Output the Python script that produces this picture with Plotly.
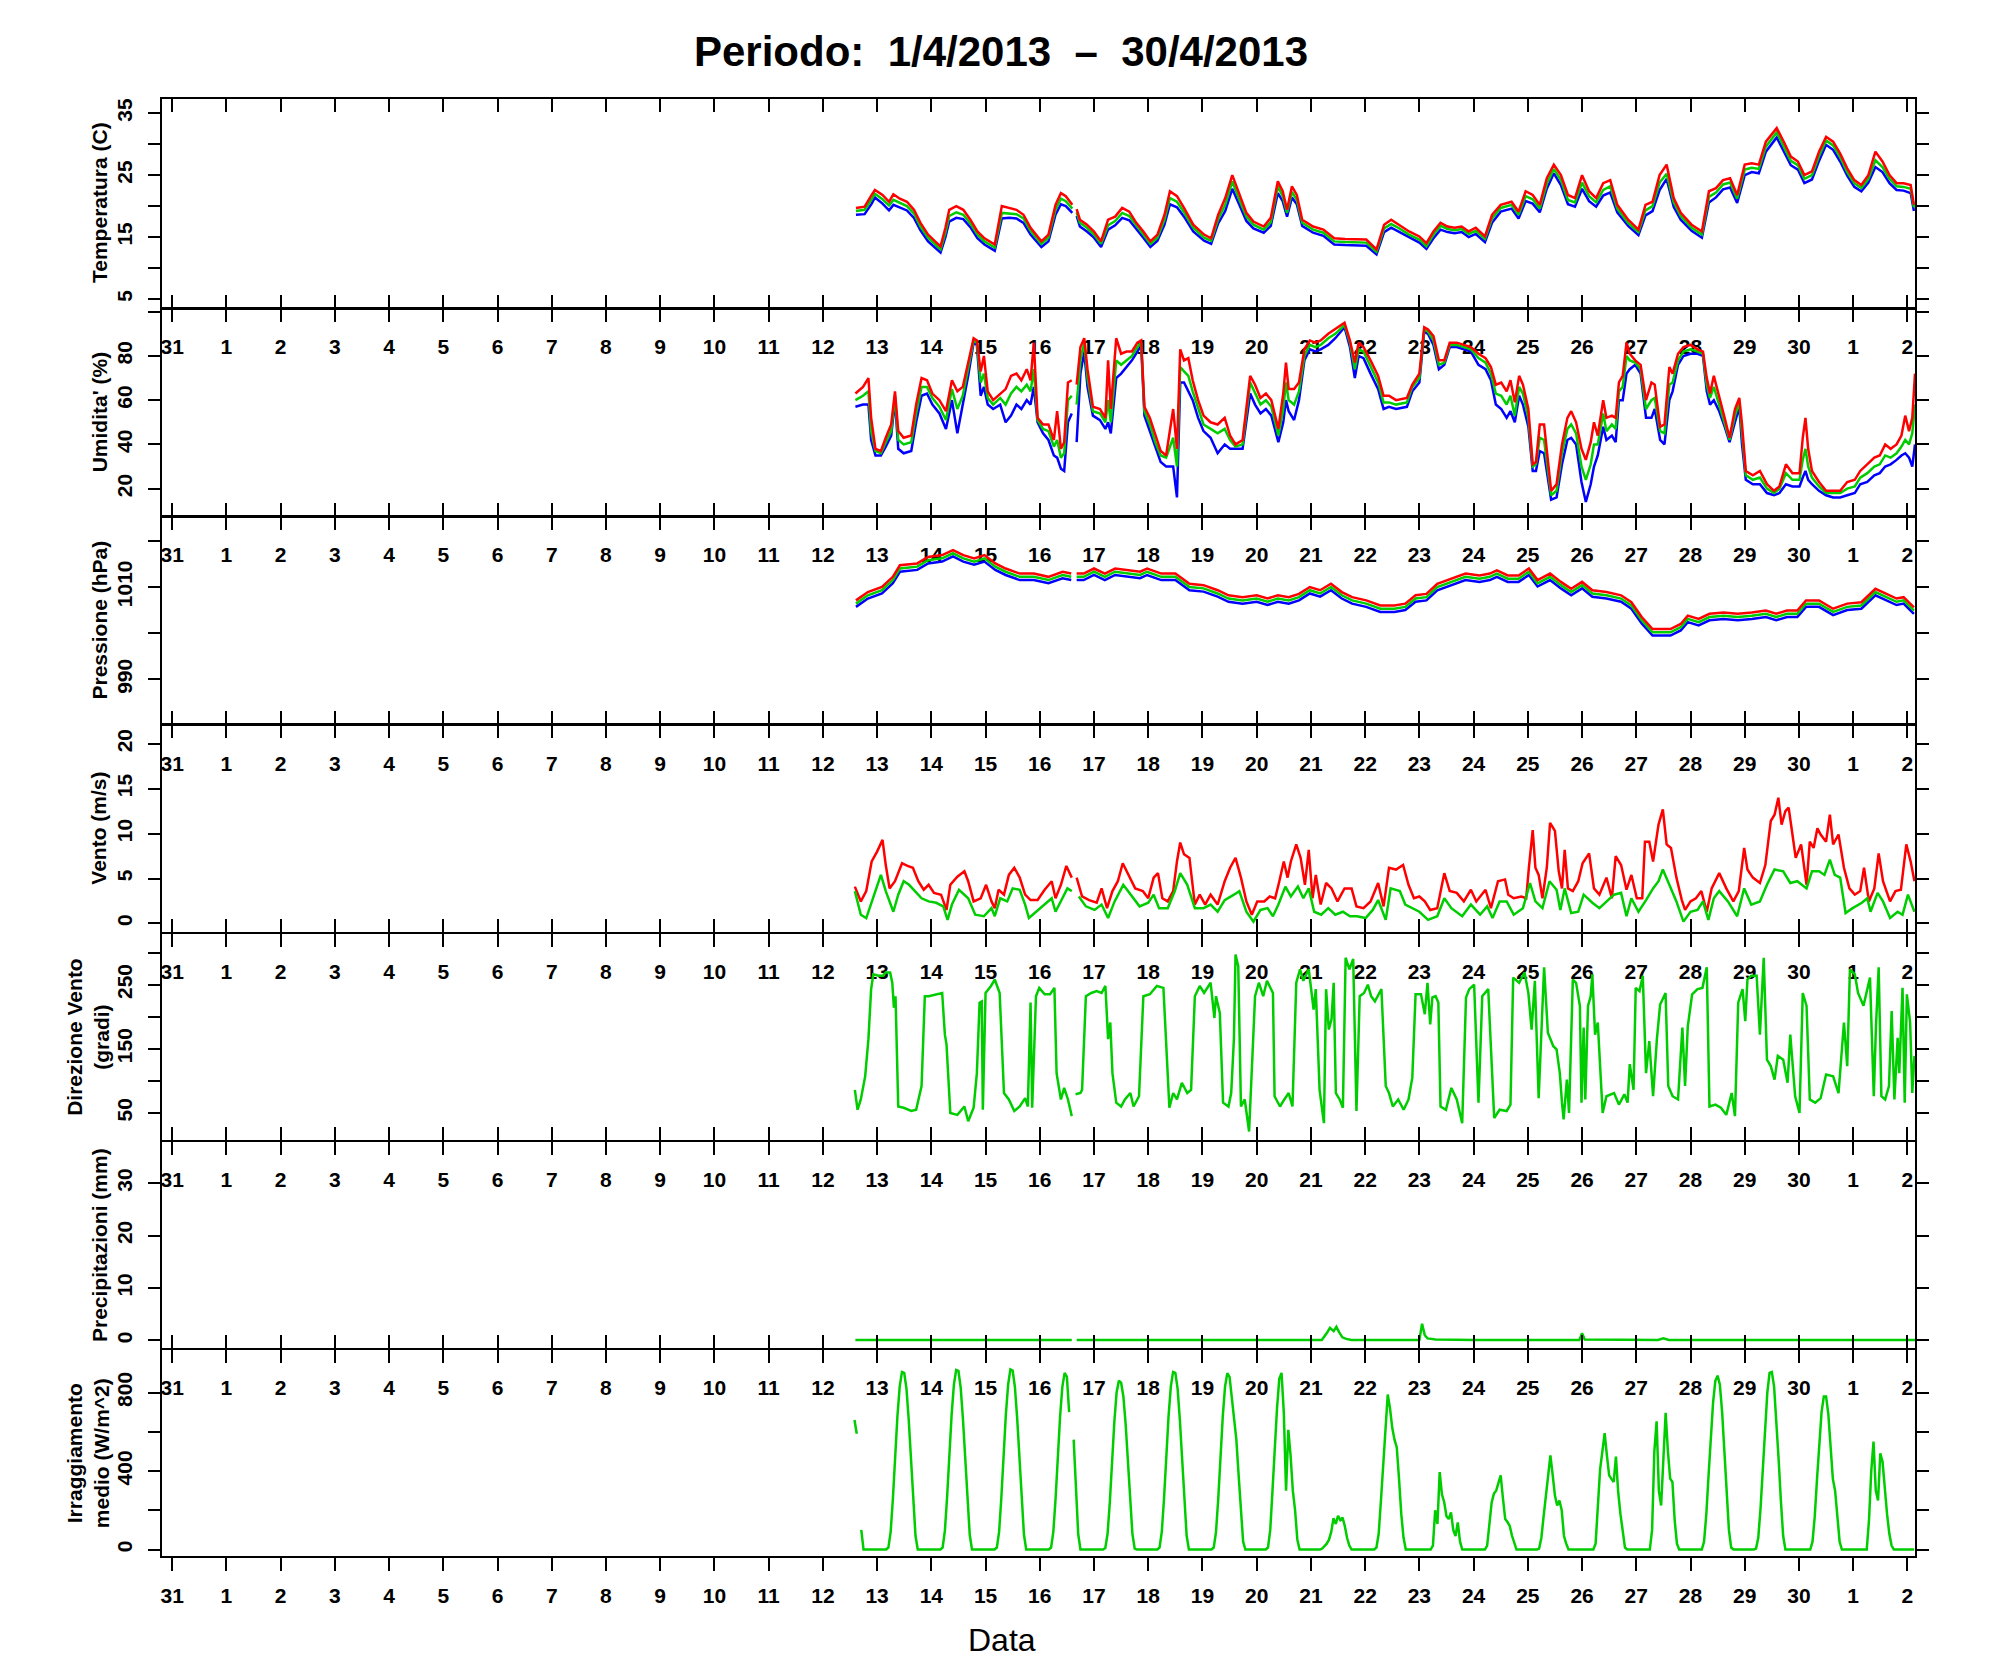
import pandas as pd
import plotly.graph_objects as go

# Data.
# Times are fractional days counted from 31 March 2013 00:00 (13.5 = 13 April, noon).
START = pd.Timestamp("2013-03-31")

# --- Temperatura (C): max / media / min ---
temp_day = [12.61, 12.77, 12.9, 12.96, 13.1, 13.22, 13.3, 13.42, 13.55, 13.68, 13.8, 13.94, 14.07, 14.17,
            14.26, 14.33, 14.46, 14.59, 14.72, 14.85, 14.98, 15.17, 15.3, 15.44, 15.57, 15.7, 15.83, 16.03,
            16.16, 16.29, 16.39, 16.48, 16.6, 16.64, 16.68, 16.74, 16.87, 17.0, 17.13, 17.26, 17.39, 17.52,
            17.65, 17.78, 17.91, 18.04, 18.17, 18.3, 18.4, 18.53, 18.66, 18.83, 19.03, 19.16, 19.29, 19.42,
            19.55, 19.68, 19.81, 19.94, 20.13, 20.26, 20.39, 20.48, 20.56, 20.65, 20.74, 20.84, 21.04, 21.23,
            21.43, 21.63, 21.82, 22.02, 22.21, 22.35, 22.48, 22.61, 22.81, 23.0, 23.13, 23.26, 23.39, 23.52,
            23.65, 23.78, 23.91, 24.04, 24.21, 24.34, 24.5, 24.7, 24.83, 24.96, 25.09, 25.22, 25.35, 25.48,
            25.61, 25.74, 25.87, 26.0, 26.13, 26.26, 26.39, 26.52, 26.65, 26.85, 27.04, 27.17, 27.3, 27.43,
            27.56, 27.69, 27.82, 28.02, 28.21, 28.34, 28.47, 28.6, 28.73, 28.86, 29.0, 29.13, 29.26, 29.39,
            29.59, 29.72, 29.85, 29.98, 30.1, 30.24, 30.37, 30.5, 30.63, 30.76, 30.89, 31.02, 31.15, 31.28,
            31.41, 31.54, 31.67, 31.8, 31.93, 32.06, 32.12]
temp_max = [19.7, 19.9, 21.8, 22.6, 21.8, 20.7, 21.9, 21.2, 20.7, 19.4, 17.3, 15.4, 14.3, 13.5,
            16.5, 19.4, 20.0, 19.4, 17.8, 15.9, 14.8, 13.8, 20.0, 19.7, 19.4, 18.6, 16.5, 14.3,
            15.4, 20.2, 22.1, 21.6, 20.2, None, 19.5, 17.8, 17.0, 15.9, 14.3, 17.8, 18.3, 19.7,
            19.1, 17.3, 15.9, 14.3, 15.4, 18.6, 22.4, 21.6, 19.7, 17.0, 15.4, 14.8, 18.6, 21.3,
            25.0, 21.8, 18.9, 17.5, 16.7, 18.1, 24.0, 22.4, 19.4, 23.2, 21.8, 17.8, 16.7, 16.2,
            14.8, 14.7, 14.6, 14.6, 13.0, 17.0, 17.8, 17.0, 15.9, 15.1, 14.0, 15.9, 17.3, 16.7,
            16.5, 16.7, 15.9, 16.5, 15.1, 18.6, 20.2, 20.7, 19.1, 22.4, 21.8, 20.2, 24.5, 26.7,
            25.0, 21.8, 21.3, 25.0, 22.4, 21.3, 23.7, 24.2, 20.2, 17.8, 16.2, 20.2, 20.7, 25.0,
            26.7, 21.3, 18.9, 17.0, 15.9, 22.4, 22.9, 24.2, 24.5, 21.8, 26.7, 26.9, 26.7, 30.4,
            32.6, 30.4, 28.0, 27.2, 25.0, 25.6, 28.8, 31.2, 30.4, 28.5, 26.1, 24.2, 23.4, 25.0,
            28.8, 27.2, 25.0, 23.7, 23.7, 23.4, 20.2]
temp_avg = [19.2, 19.4, 21.1, 22.0, 21.1, 20.1, 21.0, 20.5, 20.0, 18.8, 16.7, 14.9, 13.8, 13.0,
            15.7, 18.4, 19.0, 18.6, 17.2, 15.4, 14.3, 13.3, 18.9, 18.8, 18.7, 18.0, 16.0, 13.9,
            14.9, 19.4, 21.2, 20.8, 19.6, None, 19.0, 17.3, 16.5, 15.4, 13.9, 16.9, 17.6, 18.9,
            18.4, 16.8, 15.4, 13.9, 14.9, 17.8, 21.3, 20.7, 19.0, 16.5, 14.9, 14.4, 17.9, 20.2,
            24.0, 21.0, 18.3, 17.0, 16.2, 17.4, 23.2, 21.6, 18.9, 22.3, 21.0, 17.3, 16.2, 15.7,
            14.3, 14.2, 14.1, 14.1, 12.6, 16.4, 17.1, 16.5, 15.4, 14.6, 13.5, 15.4, 16.8, 16.3,
            16.1, 16.3, 15.5, 16.0, 14.7, 18.0, 19.7, 20.2, 18.6, 21.6, 21.1, 19.6, 23.6, 26.0,
            24.2, 21.0, 20.6, 23.8, 21.6, 20.6, 22.6, 23.2, 19.6, 17.3, 15.8, 19.3, 20.0, 23.8,
            25.2, 20.6, 18.4, 16.5, 15.4, 21.5, 22.2, 23.5, 23.8, 21.2, 25.9, 26.2, 26.0, 29.6,
            31.9, 29.7, 27.3, 26.6, 24.4, 25.0, 28.1, 30.6, 29.8, 27.9, 25.5, 23.7, 22.9, 24.4,
            27.4, 26.3, 24.4, 23.2, 23.1, 22.8, 19.8]
temp_min = [18.6, 18.7, 20.4, 21.4, 20.4, 19.3, 20.2, 19.8, 19.3, 18.1, 16.1, 14.3, 13.2, 12.5,
            15.0, 17.5, 18.1, 17.9, 16.6, 14.8, 13.8, 12.8, 18.0, 18.1, 18.0, 17.3, 15.4, 13.4,
            14.3, 18.6, 20.3, 20.0, 18.9, None, 18.4, 16.7, 15.9, 14.9, 13.4, 16.2, 16.9, 18.1,
            17.7, 16.2, 14.9, 13.4, 14.4, 17.0, 20.3, 19.8, 18.3, 15.9, 14.4, 13.9, 17.2, 19.2,
            22.8, 20.2, 17.6, 16.4, 15.7, 16.8, 22.1, 20.8, 18.3, 21.4, 20.3, 16.8, 15.7, 15.2,
            13.8, 13.7, 13.6, 13.6, 12.2, 15.8, 16.5, 15.9, 14.9, 14.1, 13.1, 14.8, 16.2, 15.8,
            15.6, 15.8, 15.0, 15.5, 14.2, 17.3, 19.1, 19.6, 18.0, 20.8, 20.4, 19.0, 22.8, 25.3,
            23.4, 20.3, 19.9, 22.8, 20.8, 19.9, 21.7, 22.2, 19.0, 16.8, 15.3, 18.5, 19.2, 22.6,
            24.4, 19.9, 17.8, 16.0, 14.9, 20.6, 21.4, 22.7, 23.0, 20.5, 25.0, 25.5, 25.3, 28.8,
            31.1, 28.9, 26.6, 25.9, 23.7, 24.3, 27.3, 29.9, 29.1, 27.2, 24.9, 23.1, 22.4, 23.8,
            26.3, 25.5, 23.7, 22.6, 22.5, 22.1, 19.2]

# --- Umidita' (%): max / media / min ---
hum_day = [12.6, 12.74, 12.84, 12.89, 12.97, 13.07, 13.16, 13.26, 13.33, 13.39, 13.49, 13.63, 13.72, 13.82,
           13.92, 14.02, 14.15, 14.27, 14.38, 14.48, 14.58, 14.68, 14.78, 14.84, 14.91, 14.97, 15.04, 15.14,
           15.27, 15.37, 15.47, 15.57, 15.66, 15.76, 15.83, 15.89, 15.96, 16.06, 16.16, 16.26, 16.32, 16.39,
           16.45, 16.52, 16.59, 16.63, 16.68, 16.75, 16.82, 16.88, 16.98, 17.11, 17.21, 17.26, 17.31, 17.41,
           17.5, 17.6, 17.7, 17.8, 17.87, 17.93, 18.03, 18.13, 18.23, 18.33, 18.46, 18.53, 18.59, 18.66,
           18.74, 18.82, 18.92, 19.02, 19.15, 19.28, 19.41, 19.51, 19.61, 19.74, 19.88, 19.97, 20.07, 20.17,
           20.27, 20.4, 20.49, 20.54, 20.59, 20.69, 20.78, 20.88, 20.98, 21.08, 21.18, 21.32, 21.45, 21.62,
           21.72, 21.81, 21.88, 21.97, 22.1, 22.24, 22.34, 22.44, 22.57, 22.77, 22.87, 23.0, 23.09, 23.16,
           23.26, 23.36, 23.46, 23.56, 23.69, 23.82, 23.95, 24.09, 24.22, 24.32, 24.41, 24.51, 24.61, 24.68,
           24.76, 24.84, 24.91, 25.01, 25.09, 25.15, 25.22, 25.3, 25.37, 25.43, 25.53, 25.63, 25.73, 25.8,
           25.89, 25.99, 26.07, 26.16, 26.22, 26.29, 26.39, 26.45, 26.55, 26.62, 26.68, 26.75, 26.82, 26.88,
           26.98, 27.08, 27.18, 27.28, 27.34, 27.44, 27.52, 27.61, 27.67, 27.77, 27.87, 28.0, 28.13, 28.23,
           28.3, 28.36, 28.43, 28.53, 28.63, 28.72, 28.82, 28.9, 28.95, 29.02, 29.15, 29.28, 29.41, 29.54,
           29.64, 29.76, 29.88, 30.01, 30.07, 30.12, 30.17, 30.24, 30.37, 30.5, 30.63, 30.76, 30.89, 31.03,
           31.13, 31.26, 31.39, 31.49, 31.59, 31.69, 31.8, 31.89, 31.96, 32.03, 32.09, 32.14]
hum_max = [63, 66, 70, 52, 38, 37, 43, 49, 64, 46, 43, 44, 58, 70,
           69, 63, 60, 55, 69, 64, 66, 77, 88, 87, 73, 80, 64, 60,
           63, 65, 71, 72, 69, 74, 69, 86, 52, 49, 49, 42, 55, 38,
           41, 68, 69, None, 67, 84, 88, 74, 57, 56, 52, 78, 56, 88,
           81, 82, 82, 86, 87, 57, 52, 44, 37, 35, 56, 38, 83, 78,
           79, 69, 60, 53, 50, 49, 52, 44, 40, 42, 71, 67, 61, 63,
           60, 47, 63, 77, 65, 65, 68, 83, 87, 86, 87, 90, 92, 95,
           87, 77, 86, 84, 78, 71, 62, 62, 60, 61, 67, 72, 93, 92,
           89, 78, 78, 86, 86, 85, 84, 81, 79, 75, 67, 68, 64, 69,
           59, 71, 67, 56, 31, 32, 49, 49, 31, 19, 22, 40, 52, 55,
           50, 38, 33, 41, 50, 44, 60, 52, 53, 52, 68, 71, 86, 81,
           78, 76, 60, 68, 67, 48, 49, 75, 72, 81, 84, 85, 83, 82,
           70, 63, 71, 62, 52, 43, 56, 61, 49, 28, 26, 28, 22, 19,
           21, 31, 27, 27, 43, 52, 38, 28, 23, 19, 19, 19, 23, 24,
           28, 31, 34, 35, 40, 38, 40, 44, 53, 46, 52, 72]
hum_avg = [60, 62, 64, 46, 37, 36, 41, 46, 62, 42, 40, 41, 54, 66,
           66, 61, 57, 51, 65, 56, 62, 74, 87, 86, 68, 72, 61, 58,
           61, 58, 63, 66, 64, 67, 64, 74, 51, 47, 46, 39, 42, 34,
           36, 60, 62, None, 58, 78, 86, 70, 55, 54, 50, 60, 50, 78,
           76, 78, 80, 84, 86, 55, 49, 41, 35, 34, 43, 30, 75, 73,
           71, 64, 56, 49, 47, 45, 47, 42, 39, 40, 68, 63, 58, 60,
           57, 44, 56, 68, 60, 58, 64, 80, 85, 84, 85, 88, 90, 94,
           86, 74, 83, 82, 75, 68, 59, 59, 58, 59, 66, 70, 92, 91,
           87, 76, 77, 85, 85, 84, 83, 79, 77, 72, 63, 62, 58, 62,
           53, 66, 63, 52, 30, 31, 43, 42, 28, 17, 19, 36, 47, 49,
           45, 30, 24, 31, 40, 40, 54, 46, 49, 47, 64, 66, 80, 78,
           77, 74, 56, 60, 61, 46, 45, 67, 68, 78, 82, 83, 82, 81,
           67, 61, 66, 58, 50, 42, 53, 59, 45, 26, 24, 25, 20, 18,
           20, 27, 24, 24, 33, 38, 30, 25, 21, 18, 18, 18, 20, 21,
           25, 27, 30, 31, 35, 34, 36, 39, 42, 40, 45, 58]
hum_min = [57, 58, 58, 42, 35, 35, 39, 44, 60, 38, 36, 37, 50, 62,
           63, 58, 54, 47, 60, 45, 58, 71, 86, 85, 62, 66, 58, 56,
           58, 50, 53, 58, 56, 60, 58, 66, 50, 45, 42, 35, 34, 29,
           28, 50, 54, None, 41, 72, 82, 66, 53, 51, 47, 50, 45, 70,
           72, 75, 78, 82, 85, 53, 46, 38, 32, 30, 30, 16, 68, 68,
           64, 60, 52, 46, 43, 36, 40, 38, 38, 38, 63, 58, 54, 56,
           53, 41, 50, 60, 55, 51, 60, 78, 83, 82, 83, 85, 88, 93,
           84, 70, 80, 79, 72, 65, 56, 57, 56, 57, 64, 68, 91, 90,
           85, 74, 76, 84, 84, 83, 82, 76, 74, 69, 58, 56, 52, 55,
           50, 62, 58, 48, 28, 28, 37, 36, 24, 15, 16, 31, 42, 43,
           40, 23, 14, 22, 30, 35, 48, 42, 44, 41, 60, 60, 72, 74,
           76, 72, 52, 52, 56, 42, 40, 60, 64, 76, 80, 81, 81, 80,
           64, 58, 60, 55, 48, 41, 50, 57, 40, 24, 22, 22, 18, 17,
           18, 22, 21, 21, 25, 28, 24, 22, 19, 17, 16, 16, 17, 18,
           22, 23, 26, 27, 30, 31, 33, 35, 36, 34, 30, 40]

# --- Pressione (hPa): max / media / min ---
press_day = [12.61, 12.83, 13.09, 13.29, 13.42, 13.74, 13.94, 14.2, 14.4, 14.59, 14.79, 14.98, 15.18, 15.37,
             15.63, 15.89, 16.16, 16.42, 16.58, 16.63, 16.68, 16.81, 17.0, 17.2, 17.39, 17.65, 17.85, 17.98,
             18.24, 18.5, 18.76, 19.02, 19.28, 19.48, 19.74, 20.0, 20.2, 20.39, 20.59, 20.78, 20.98, 21.17,
             21.37, 21.57, 21.76, 22.02, 22.28, 22.54, 22.74, 22.93, 23.13, 23.33, 23.59, 23.85, 24.11, 24.3,
             24.43, 24.63, 24.83, 25.02, 25.18, 25.41, 25.61, 25.8, 26.0, 26.19, 26.45, 26.72, 26.91, 27.1,
             27.3, 27.63, 27.82, 27.95, 28.15, 28.35, 28.61, 28.87, 29.13, 29.39, 29.58, 29.78, 29.97, 30.13,
             30.37, 30.63, 30.89, 31.15, 31.41, 31.6, 31.8, 31.93, 32.12]
press_max = [1007.1, 1008.9, 1010.0, 1012.2, 1014.7, 1015.1, 1016.5, 1016.9, 1018.0, 1016.9, 1016.2, 1016.9, 1015.1, 1014.0,
             1012.9, 1012.9, 1012.2, 1013.3, 1012.9, None, 1012.9, 1012.9, 1014.0, 1012.9, 1014.0, 1013.6, 1013.3, 1014.0,
             1012.9, 1012.9, 1010.7, 1010.4, 1009.3, 1008.2, 1007.8, 1008.2, 1007.5, 1008.2, 1007.8, 1008.5, 1010.0, 1009.3,
             1010.7, 1008.9, 1007.8, 1007.1, 1006.0, 1006.0, 1006.4, 1008.2, 1008.5, 1010.7, 1011.8, 1012.9, 1012.5, 1012.9,
             1013.6, 1012.5, 1012.5, 1014.0, 1011.5, 1012.9, 1011.1, 1009.6, 1011.1, 1009.3, 1008.9, 1008.2, 1006.7, 1003.5,
             1000.9, 1000.9, 1002.0, 1003.8, 1003.1, 1004.2, 1004.5, 1004.2, 1004.5, 1004.9, 1004.2, 1004.9, 1004.9, 1007.1,
             1007.1, 1005.3, 1006.4, 1006.7, 1009.6, 1008.5, 1007.5, 1007.8, 1005.6]
press_avg = [1006.4, 1008.2, 1009.3, 1011.5, 1014.0, 1014.4, 1015.8, 1016.2, 1017.3, 1016.2, 1015.5, 1016.2, 1014.4, 1013.3,
             1012.2, 1012.2, 1011.5, 1012.6, 1012.2, None, 1012.2, 1012.2, 1013.3, 1012.2, 1013.3, 1012.9, 1012.6, 1013.3,
             1012.2, 1012.2, 1010.0, 1009.7, 1008.6, 1007.5, 1007.1, 1007.5, 1006.8, 1007.5, 1007.1, 1007.8, 1009.3, 1008.6,
             1010.0, 1008.2, 1007.1, 1006.4, 1005.3, 1005.3, 1005.7, 1007.5, 1007.8, 1010.0, 1011.1, 1012.2, 1011.8, 1012.2,
             1012.9, 1011.8, 1011.8, 1013.3, 1010.8, 1012.2, 1010.4, 1008.9, 1010.4, 1008.6, 1008.2, 1007.5, 1006.0, 1002.8,
             1000.2, 1000.2, 1001.3, 1003.1, 1002.4, 1003.5, 1003.8, 1003.5, 1003.8, 1004.2, 1003.5, 1004.2, 1004.2, 1006.4,
             1006.4, 1004.6, 1005.7, 1006.0, 1008.9, 1007.8, 1006.8, 1007.1, 1004.9]
press_min = [1005.7, 1007.5, 1008.6, 1010.8, 1013.3, 1013.7, 1015.1, 1015.5, 1016.6, 1015.5, 1014.8, 1015.5, 1013.7, 1012.6,
             1011.5, 1011.5, 1010.8, 1011.9, 1011.5, None, 1011.5, 1011.5, 1012.6, 1011.5, 1012.6, 1012.2, 1011.9, 1012.6,
             1011.5, 1011.5, 1009.3, 1009.0, 1007.9, 1006.8, 1006.4, 1006.8, 1006.1, 1006.8, 1006.4, 1007.1, 1008.6, 1007.9,
             1009.3, 1007.5, 1006.4, 1005.7, 1004.6, 1004.6, 1005.0, 1006.8, 1007.1, 1009.3, 1010.4, 1011.5, 1011.1, 1011.5,
             1012.2, 1011.1, 1011.1, 1012.6, 1010.1, 1011.5, 1009.7, 1008.2, 1009.7, 1007.9, 1007.5, 1006.8, 1005.3, 1002.1,
             999.5, 999.5, 1000.6, 1002.4, 1001.7, 1002.8, 1003.1, 1002.8, 1003.1, 1003.5, 1002.8, 1003.5, 1003.5, 1005.7,
             1005.7, 1003.9, 1005.0, 1005.3, 1008.2, 1007.1, 1006.1, 1006.4, 1004.2]

# --- Vento (m/s): raffica (max) and media ---
gust_day = [12.59, 12.7, 12.8, 12.9, 13.0, 13.1, 13.16, 13.23, 13.33, 13.46, 13.56, 13.66, 13.76, 13.86, 13.95,
            14.05, 14.18, 14.28, 14.35, 14.48, 14.61, 14.68, 14.78, 14.91, 15.01, 15.11, 15.17, 15.24, 15.34, 15.43,
            15.53, 15.63, 15.73, 15.83, 15.96, 16.09, 16.22, 16.29, 16.39, 16.49, 16.59, 16.63, 16.68, 16.78, 16.91,
            17.05, 17.14, 17.24, 17.34, 17.44, 17.53, 17.63, 17.76, 17.9, 18.0, 18.1, 18.18, 18.26, 18.36, 18.46,
            18.53, 18.59, 18.66, 18.76, 18.86, 18.95, 19.05, 19.15, 19.28, 19.41, 19.51, 19.61, 19.71, 19.81, 19.91,
            20.01, 20.14, 20.24, 20.34, 20.41, 20.5, 20.57, 20.63, 20.73, 20.81, 20.89, 20.96, 21.03, 21.09, 21.18,
            21.28, 21.38, 21.49, 21.62, 21.75, 21.84, 21.97, 22.1, 22.24, 22.34, 22.44, 22.57, 22.7, 22.8, 22.9,
            23.0, 23.1, 23.2, 23.33, 23.46, 23.56, 23.69, 23.82, 23.95, 24.05, 24.22, 24.32, 24.45, 24.58, 24.64,
            24.74, 24.88, 24.97, 25.02, 25.09, 25.14, 25.2, 25.27, 25.35, 25.41, 25.5, 25.57, 25.63, 25.68, 25.74,
            25.83, 25.93, 26.01, 26.13, 26.22, 26.32, 26.45, 26.55, 26.62, 26.72, 26.82, 26.91, 27.01, 27.11, 27.16,
            27.24, 27.31, 27.41, 27.49, 27.56, 27.64, 27.74, 27.84, 27.9, 28.0, 28.1, 28.2, 28.3, 28.39, 28.53,
            28.66, 28.79, 28.89, 28.99, 29.05, 29.15, 29.28, 29.38, 29.48, 29.55, 29.62, 29.68, 29.75, 29.81, 29.88,
            29.94, 30.04, 30.14, 30.2, 30.27, 30.34, 30.4, 30.5, 30.57, 30.63, 30.73, 30.83, 30.93, 31.03, 31.13,
            31.2, 31.29, 31.39, 31.47, 31.55, 31.68, 31.78, 31.88, 31.98, 32.06, 32.13]
gust = [4.1, 2.45, 3.6, 6.9, 8.0, 9.3, 6.5, 3.9, 4.7, 6.7, 6.4, 6.2, 4.7, 3.75, 4.3,
        3.4, 3.2, 1.5, 4.3, 5.2, 5.8, 4.7, 2.45, 2.8, 4.3, 2.45, 1.7, 3.75, 3.2, 5.4,
        6.2, 5.1, 3.2, 2.6, 2.6, 3.75, 4.7, 2.8, 4.3, 6.4, 5.1, None, 5.1, 3.0, 2.6,
        2.3, 3.9, 1.7, 3.6, 4.7, 6.7, 5.4, 3.9, 3.6, 2.8, 5.1, 5.6, 2.8, 2.45, 3.6,
        6.9, 9.0, 7.7, 7.3, 2.1, 3.2, 2.1, 3.2, 2.1, 4.7, 6.2, 7.3, 5.1, 2.45, 0.97,
        2.45, 2.45, 3.0, 2.8, 4.5, 6.9, 5.1, 6.9, 8.8, 7.3, 4.3, 8.2, 2.8, 5.4, 2.1,
        4.5, 3.9, 2.45, 3.9, 3.9, 1.9, 1.7, 2.45, 4.5, 1.9, 6.2, 6.0, 6.5, 4.3, 2.8,
        3.0, 2.45, 1.5, 1.7, 5.6, 3.6, 3.4, 2.45, 3.75, 2.45, 3.75, 1.7, 4.7, 4.9, 3.2,
        2.8, 3.0, 2.8, 6.2, 10.4, 6.2, 5.4, 2.8, 6.2, 11.2, 10.3, 5.8, 3.9, 8.2, 3.9,
        3.6, 4.7, 6.7, 7.8, 3.9, 3.2, 5.1, 2.8, 7.5, 6.5, 3.75, 5.4, 2.8, 2.8, 9.1,
        9.1, 6.9, 11.0, 12.7, 8.8, 8.4, 5.1, 2.6, 1.5, 2.45, 2.8, 3.6, 1.3, 3.9, 5.6,
        3.9, 2.45, 3.6, 8.4, 6.0, 5.1, 4.5, 6.5, 11.4, 12.1, 14.0, 11.0, 12.5, 12.9, 9.9,
        7.3, 8.8, 4.3, 9.1, 8.4, 10.6, 9.9, 9.1, 12.1, 8.8, 9.9, 6.2, 3.9, 3.2, 3.6,
        6.2, 2.45, 3.9, 7.8, 4.7, 2.45, 3.6, 3.75, 8.8, 6.9, 4.7]
wind_day = [12.59, 12.7, 12.8, 12.9, 13.0, 13.07, 13.16, 13.3, 13.39, 13.49, 13.59, 13.69, 13.82, 13.95, 14.09,
            14.22, 14.3, 14.38, 14.51, 14.68, 14.81, 14.97, 15.11, 15.17, 15.27, 15.4, 15.5, 15.63, 15.73, 15.8,
            15.93, 16.09, 16.22, 16.29, 16.42, 16.51, 16.59, 16.63, 16.72, 16.85, 17.01, 17.14, 17.26, 17.38, 17.54,
            17.67, 17.84, 18.0, 18.1, 18.2, 18.36, 18.49, 18.59, 18.72, 18.86, 19.02, 19.15, 19.28, 19.41, 19.58,
            19.68, 19.81, 19.94, 20.07, 20.2, 20.3, 20.4, 20.53, 20.63, 20.76, 20.86, 20.96, 21.06, 21.19, 21.32,
            21.45, 21.59, 21.72, 21.85, 22.01, 22.14, 22.24, 22.38, 22.47, 22.64, 22.74, 22.87, 23.0, 23.16, 23.33,
            23.46, 23.59, 23.79, 23.95, 24.12, 24.25, 24.35, 24.48, 24.61, 24.74, 24.91, 25.04, 25.14, 25.27, 25.4,
            25.53, 25.6, 25.68, 25.8, 25.93, 26.03, 26.19, 26.32, 26.45, 26.59, 26.72, 26.82, 26.91, 27.04, 27.18,
            27.31, 27.41, 27.49, 27.61, 27.74, 27.87, 28.0, 28.13, 28.23, 28.33, 28.43, 28.53, 28.69, 28.86, 28.99,
            29.12, 29.28, 29.41, 29.55, 29.71, 29.84, 29.97, 30.14, 30.24, 30.37, 30.47, 30.57, 30.66, 30.76, 30.86,
            30.99, 31.16, 31.26, 31.32, 31.45, 31.55, 31.68, 31.82, 31.91, 32.01, 32.13]
wind = [3.6, 0.97, 0.6, 2.45, 4.3, 5.4, 3.6, 1.3, 3.2, 4.7, 4.3, 3.6, 2.8, 2.45, 2.3,
        1.9, 0.4, 2.1, 3.75, 2.8, 0.97, 0.8, 1.7, 0.8, 2.8, 2.45, 3.9, 3.75, 2.1, 0.6,
        1.3, 2.1, 2.8, 1.3, 2.8, 3.9, 3.6, None, 3.0, 1.9, 1.5, 2.1, 0.6, 2.45, 4.3,
        3.2, 1.9, 2.3, 3.2, 1.7, 1.7, 3.6, 5.6, 4.3, 1.7, 1.7, 2.1, 1.3, 2.6, 3.2,
        3.6, 1.3, 0.2, 1.5, 1.7, 0.8, 2.1, 4.1, 3.0, 4.1, 2.8, 3.9, 1.3, 0.97, 1.7,
        0.97, 1.3, 0.8, 0.8, 0.6, 1.5, 2.6, 0.4, 3.9, 3.6, 2.1, 1.7, 1.3, 0.4, 0.8,
        2.8, 1.7, 0.8, 2.1, 0.97, 1.9, 0.6, 2.45, 2.45, 0.97, 1.7, 4.5, 2.45, 1.7, 4.7,
        3.75, 1.5, 3.9, 1.15, 1.3, 3.2, 2.3, 1.7, 2.45, 3.2, 3.4, 0.8, 2.8, 1.3, 2.6,
        3.9, 4.7, 6.0, 4.3, 2.45, 0.2, 1.3, 1.5, 2.45, 0.4, 2.8, 3.6, 2.45, 0.8, 3.9,
        2.1, 2.45, 4.3, 6.0, 5.8, 4.5, 4.7, 3.9, 5.8, 5.8, 5.4, 7.1, 5.4, 5.1, 1.15,
        1.7, 2.3, 2.8, 1.3, 3.4, 2.45, 0.6, 1.3, 0.97, 3.2, 1.3]

# --- Direzione Vento (gradi) ---
dir_day = [12.59, 12.64, 12.7, 12.78, 12.84, 12.89, 12.93, 13.03, 13.11, 13.16, 13.24, 13.28, 13.31, 13.34, 13.39,
           13.49, 13.63, 13.72, 13.82, 13.88, 13.95, 14.09, 14.2, 14.25, 14.28, 14.35, 14.48, 14.61, 14.68, 14.78,
           14.84, 14.89, 14.93, 14.95, 15.0, 15.1, 15.17, 15.26, 15.34, 15.43, 15.53, 15.63, 15.73, 15.78, 15.83,
           15.86, 15.93, 15.99, 16.09, 16.19, 16.27, 16.31, 16.39, 16.45, 16.52, 16.59, 16.63, 16.66, 16.75, 16.78,
           16.85, 16.95, 17.05, 17.14, 17.21, 17.26, 17.3, 17.34, 17.41, 17.5, 17.57, 17.67, 17.73, 17.83, 17.91,
           18.03, 18.16, 18.28, 18.34, 18.39, 18.46, 18.53, 18.62, 18.72, 18.79, 18.86, 18.95, 19.03, 19.15, 19.22,
           19.25, 19.32, 19.38, 19.48, 19.53, 19.58, 19.61, 19.66, 19.71, 19.78, 19.86, 19.91, 19.97, 20.04, 20.12,
           20.19, 20.3, 20.33, 20.43, 20.51, 20.59, 20.66, 20.73, 20.8, 20.86, 20.96, 21.05, 21.09, 21.16, 21.24,
           21.28, 21.33, 21.38, 21.42, 21.46, 21.53, 21.59, 21.64, 21.71, 21.78, 21.84, 21.9, 21.98, 22.05, 22.11,
           22.18, 22.3, 22.38, 22.44, 22.51, 22.61, 22.71, 22.8, 22.87, 22.93, 23.03, 23.1, 23.15, 23.2, 23.24,
           23.3, 23.35, 23.39, 23.49, 23.59, 23.69, 23.79, 23.86, 23.92, 24.01, 24.09, 24.16, 24.27, 24.38, 24.48,
           24.61, 24.68, 24.73, 24.84, 24.94, 25.01, 25.07, 25.13, 25.2, 25.27, 25.3, 25.37, 25.47, 25.53, 25.59,
           25.63, 25.66, 25.72, 25.76, 25.83, 25.89, 25.96, 25.99, 26.03, 26.06, 26.11, 26.16, 26.19, 26.24, 26.29,
           26.38, 26.45, 26.59, 26.68, 26.78, 26.84, 26.88, 26.95, 26.99, 27.06, 27.12, 27.18, 27.24, 27.31, 27.38,
           27.44, 27.54, 27.59, 27.67, 27.77, 27.85, 27.9, 27.95, 28.03, 28.13, 28.22, 28.3, 28.35, 28.46, 28.56,
           28.66, 28.76, 28.82, 28.88, 28.96, 29.01, 29.05, 29.12, 29.22, 29.28, 29.35, 29.41, 29.48, 29.55, 29.61,
           29.71, 29.79, 29.84, 29.93, 30.01, 30.07, 30.14, 30.2, 30.3, 30.4, 30.5, 30.63, 30.73, 30.83, 30.89,
           30.94, 31.03, 31.09, 31.19, 31.31, 31.38, 31.42, 31.47, 31.52, 31.59, 31.66, 31.71, 31.76, 31.82, 31.85,
           31.91, 31.95, 31.99, 32.05, 32.09, 32.13]
wind_dir = [86, 55, 71, 107, 165, 243, 266, 264, 264, 269, 269, 253, 214, 232, 60,
            58, 53, 55, 92, 232, 232, 235, 237, 172, 157, 50, 47, 60, 37, 58,
            112, 222, 224, 55, 237, 248, 258, 237, 81, 71, 53, 60, 73, 60, 222,
            58, 232, 245, 235, 235, 245, 112, 71, 89, 71, 45, None, 79, 81, 86,
            232, 237, 240, 237, 248, 165, 191, 112, 66, 60, 71, 81, 60, 76, 232,
            235, 248, 245, 139, 58, 81, 71, 97, 81, 86, 232, 248, 237, 253, 198,
            232, 206, 66, 60, 81, 165, 297, 279, 60, 71, 21, 123, 232, 253, 232,
            256, 237, 76, 60, 71, 81, 60, 253, 274, 256, 274, 211, 243, 86, 34,
            243, 180, 196, 253, 81, 71, 58, 292, 274, 290, 53, 232, 237, 250, 232,
            224, 243, 92, 81, 60, 71, 55, 71, 105, 235, 235, 204, 253, 188, 230,
            232, 222, 60, 55, 89, 71, 34, 230, 243, 250, 66, 232, 243, 42, 55,
            53, 63, 261, 253, 269, 237, 180, 256, 73, 232, 277, 175, 154, 149, 112,
            66, 40, 102, 50, 258, 253, 217, 66, 183, 71, 217, 232, 266, 172, 191,
            50, 76, 81, 63, 79, 66, 126, 86, 245, 240, 264, 112, 162, 76, 165,
            219, 237, 92, 76, 71, 183, 92, 185, 235, 243, 245, 277, 60, 63, 58,
            47, 81, 45, 222, 243, 193, 258, 264, 264, 172, 292, 133, 123, 102, 139,
            133, 97, 172, 76, 50, 237, 217, 71, 66, 73, 110, 107, 81, 191, 123,
            274, 266, 237, 217, 261, 76, 185, 277, 76, 71, 92, 209, 71, 167, 112,
            245, 66, 235, 191, 81, 139]

# --- Precipitazioni (mm) ---
rain_day = [12.6, 16.59, 16.63, 16.68, 21.2, 21.3, 21.35, 21.42, 21.47, 21.52, 21.58, 21.65, 21.75,
            23.0, 23.05, 23.1, 23.15, 23.3, 24.0, 25.95, 26.0, 26.05, 27.4, 27.5, 27.6, 32.14]
rain = [0.1, 0.1, None, 0.1, 0.1, 1.5, 2.4, 1.8, 2.6, 1.6, 0.6, 0.3, 0.1,
        0.1, 3.2, 1.0, 0.4, 0.2, 0.1, 0.1, 1.4, 0.2, 0.1, 0.4, 0.1, 0.1]

# --- Irraggiamento medio (W/m^2), hourly from 12/4 14:00 ---
irr_start = "2013-04-12 14:00"
irr = [
    660, 590, None, 100, 0, 0, 0, 0, 0, 0,                                                   # 12/4 14-23h
    0, 0, 0, 0, 0, 10, 90, 260, 480, 680, 830, 905, 900, 820, 660, 450, 240, 70, 0, 0, 0, 0, 0, 0,      # 13
    0, 0, 0, 0, 0, 10, 95, 270, 490, 690, 840, 915, 910, 825, 665, 455, 245, 75, 0, 0, 0, 0, 0, 0,      # 14
    0, 0, 0, 0, 0, 10, 90, 265, 485, 690, 840, 918, 912, 828, 668, 458, 248, 75, 0, 0, 0, 0, 0, 0,      # 15
    0, 0, 0, 0, 0, 10, 90, 260, 480, 680, 830, 900, 880, 700, None, 560, 300, 80, 0, 0, 0, 0, 0, 0,     # 16
    0, 0, 0, 0, 0, 8, 80, 240, 450, 650, 800, 860, 850, 780, 640, 450, 250, 80, 5, 0, 0, 0, 0, 0,       # 17
    0, 0, 0, 0, 0, 10, 90, 260, 480, 680, 830, 905, 900, 820, 660, 450, 240, 70, 0, 0, 0, 0, 0, 0,      # 18
    0, 0, 0, 0, 0, 10, 90, 260, 480, 680, 830, 898, 880, 760, 650, 560, 380, 220, 40, 0, 0, 0, 0, 0,    # 19
    0, 0, 0, 0, 0, 10, 100, 300, 520, 720, 870, 900, 700, 300, 610, 480, 300, 200, 50, 0, 0, 0, 0, 0,   # 20
    0, 0, 0, 0, 0, 5, 15, 30, 50, 90, 160, 130, 172, 150, 163, 120, 60, 20, 0, 0, 0, 0, 0, 0,           # 21
    0, 0, 0, 0, 0, 10, 80, 250, 450, 650, 790, 720, 620, 560, 520, 360, 180, 60, 0, 0, 0, 0, 0, 0,      # 22
    0, 0, 0, 0, 0, 0, 20, 200, 130, 395, 280, 241, 170, 155, 189, 100, 69, 138, 40, 0, 0, 0, 0, 0,      # 23
    0, 0, 0, 0, 0, 0, 20, 120, 240, 285, 300, 340, 378, 260, 155, 140, 120, 70, 30, 0, 0, 0, 0, 0,      # 24
    0, 0, 0, 0, 0, 5, 60, 170, 270, 380, 480, 380, 275, 224, 250, 200, 69, 30, 0, 0, 0, 0, 0, 0,        # 25
    0, 0, 0, 0, 0, 0, 30, 200, 410, 500, 593, 480, 378, 360, 344, 473, 292, 180, 80, 10, 0, 0, 0, 0,    # 26
    0, 0, 0, 0, 0, 0, 0, 100, 500, 653, 300, 224, 500, 697, 500, 361, 344, 150, 30, 0, 0, 0, 0, 0,      # 27
    0, 0, 0, 0, 0, 0, 40, 180, 380, 580, 750, 860, 886, 840, 700, 500, 290, 100, 10, 0, 0, 0, 0, 0,     # 28
    0, 0, 0, 0, 0, 5, 60, 210, 420, 630, 800, 900, 905, 830, 670, 460, 250, 70, 0, 0, 0, 0, 0, 0,       # 29
    0, 0, 0, 0, 0, 0, 40, 170, 360, 550, 700, 780, 780, 690, 530, 360, 300, 150, 40, 0, 0, 0, 0, 0,     # 30
    0, 0, 0, 0, 0, 0, 0, 150, 400, 550, 300, 250, 490, 447, 300, 180, 80, 20, 0, 0, 0, 0, 0, 0,         # 1/5
    0, 0, 0, 0,                                                                                        # 2/5
]

y_titles = ["Temperatura (C)", "Umidita' (%)", "Pressione (hPa)", "Vento (m/s)",
            "Direzione Vento<br>(gradi)", "Precipitazioni (mm)", "Irraggiamento<br>medio (W/m^2)"]
y_ranges = [[3.7, 37.3], [8, 101], [980.5, 1025], [-0.9, 22], [8.3, 329], [-1.4, 37.8], [-33, 1015]]
y_tickvals = [[5, 10, 15, 20, 25, 30, 35], [20, 40, 60, 80, 100], [990, 1000, 1010, 1020],
              [0, 5, 10, 15, 20], [50, 100, 150, 200, 250, 300], [0, 10, 20, 30], [0, 200, 400, 600, 800]]
y_ticktext = [["5", "", "15", "", "25", "", "35"], ["20", "40", "60", "80", ""], ["990", "", "1010", ""],
              ["0", "5", "10", "15", "20"], ["50", "", "150", "", "250", ""], ["0", "10", "20", "30"],
              ["0", "", "400", "", "800"]]

RED, GREEN, BLUE = "#FF0000", "#00CD00", "#0000FF"
FONT = "Liberation Sans, Arial, sans-serif"


def when(days):
    return [START + pd.Timedelta(days=d) for d in days]


fig = go.Figure()


def line(x, y, color, panel):
    fig.add_trace(go.Scatter(x=x, y=y, mode="lines", line=dict(color=color, width=2.5),
                             xaxis="x" if panel == 1 else f"x{panel}",
                             yaxis="y" if panel == 1 else f"y{panel}",
                             showlegend=False, hoverinfo="skip"))


t = when(temp_day)
line(t, temp_min, BLUE, 1)
line(t, temp_avg, GREEN, 1)
line(t, temp_max, RED, 1)
t = when(hum_day)
line(t, hum_min, BLUE, 2)
line(t, hum_avg, GREEN, 2)
line(t, hum_max, RED, 2)
t = when(press_day)
line(t, press_min, BLUE, 3)
line(t, press_avg, GREEN, 3)
line(t, press_max, RED, 3)
line(when(gust_day), gust, RED, 4)
line(when(wind_day), wind, GREEN, 4)
line(when(dir_day), wind_dir, GREEN, 5)
line(when(rain_day), rain, GREEN, 6)
line(pd.date_range(irr_start, periods=len(irr), freq="h"), irr, GREEN, 7)

# dummy trace so the top-tick overlay axis of the first panel gets drawn
fig.add_trace(go.Scatter(x=[START], y=[None], xaxis="x8", yaxis="y", showlegend=False, hoverinfo="skip"))

# layout geometry: page pixels, the html body adds an 8px margin
OFF = 8
W, H = 1991 - OFF, 1680 - OFF
plot_left, plot_right, plot_top, plot_bottom = 162, 1915, 99, 1556
ML, MR = plot_left - OFF, W - (plot_right - OFF)
MT, MB = plot_top - OFF, H - (plot_bottom - OFF)
plot_w, plot_h = W - ML - MR, H - MT - MB
first_bottom, pitch, gap = 307, (plot_bottom - 307) / 6, 2.5


def fy(px):
    # page pixel row -> paper fraction
    return (plot_bottom - px) / plot_h


def fx(px):
    return (px - plot_left) / plot_w


x_range = [START - pd.Timedelta(days=0.187), START + pd.Timedelta(days=32.14)]
tick_font = dict(family=FONT, size=21, color="black", weight="bold")
xcommon = dict(type="date", range=x_range, tickmode="linear", tick0=START, dtick=86400000,
               tickformat="%-d", showgrid=False, zeroline=False, tickcolor="black",
               tickwidth=1.5, ticklen=13, tickfont=tick_font)

layout = {}
annotations = []
for i in range(7):
    n = "" if i == 0 else str(i + 1)
    bot_px = first_bottom + pitch * i
    top_px = plot_top if i == 0 else first_bottom + pitch * (i - 1) + gap
    dom = [max(0.0, fy(bot_px)), min(1.0, fy(top_px))]
    layout["xaxis" + n] = dict(xcommon, anchor="y" + n, ticks="outside",
                               mirror=True if i == 0 else "allticks",
                               showline=True, linecolor="black", linewidth=2,
                               ticklabelstandoff=7)
    layout["yaxis" + n] = dict(domain=dom, anchor="x" + n, range=y_ranges[i],
                               tickmode="array", tickvals=y_tickvals[i], ticktext=y_ticktext[i],
                               tickangle=-90, ticks="outside", ticklen=12, tickwidth=1.5,
                               tickcolor="black", mirror="allticks", showline=True,
                               linecolor="black", linewidth=2, showgrid=False, zeroline=False,
                               tickfont=tick_font, ticklabelstandoff=8)
    two_lines = "<br>" in y_titles[i]
    annotations.append(dict(text=y_titles[i], textangle=-90, xref="paper", yref="paper",
                            x=fx(88) if two_lines else fx(99),
                            y=(dom[0] + dom[1]) / 2, xanchor="center", yanchor="middle",
                            showarrow=False, font=dict(family=FONT, size=21, color="black", weight="bold")))

layout["xaxis8"] = dict(xcommon, overlaying="x", anchor="y", side="top", ticks="inside",
                        showticklabels=False, showline=False)

annotations.append(dict(text="Data", xref="paper", yref="paper", x=fx(1002), y=fy(1640),
                        xanchor="center", yanchor="middle", showarrow=False,
                        font=dict(family=FONT, size=32, color="black")))

fig.update_layout(
    width=W, height=H,
    margin=dict(l=ML, r=MR, t=MT, b=MB),
    plot_bgcolor="white", paper_bgcolor="white",
    showlegend=False,
    font=dict(family=FONT, size=19, color="black"),
    title=dict(text="Periodo:\u00a0\u00a01/4/2013\u00a0\u00a0\u2013\u00a0\u00a030/4/2013",
               x=(1001 - OFF) / W, xanchor="center", y=1 - (51 - OFF) / H, yanchor="middle",
               font=dict(family=FONT, size=42, color="black", weight="bold")),
    annotations=annotations,
    **layout,
)

fig.write_html("out.html")
